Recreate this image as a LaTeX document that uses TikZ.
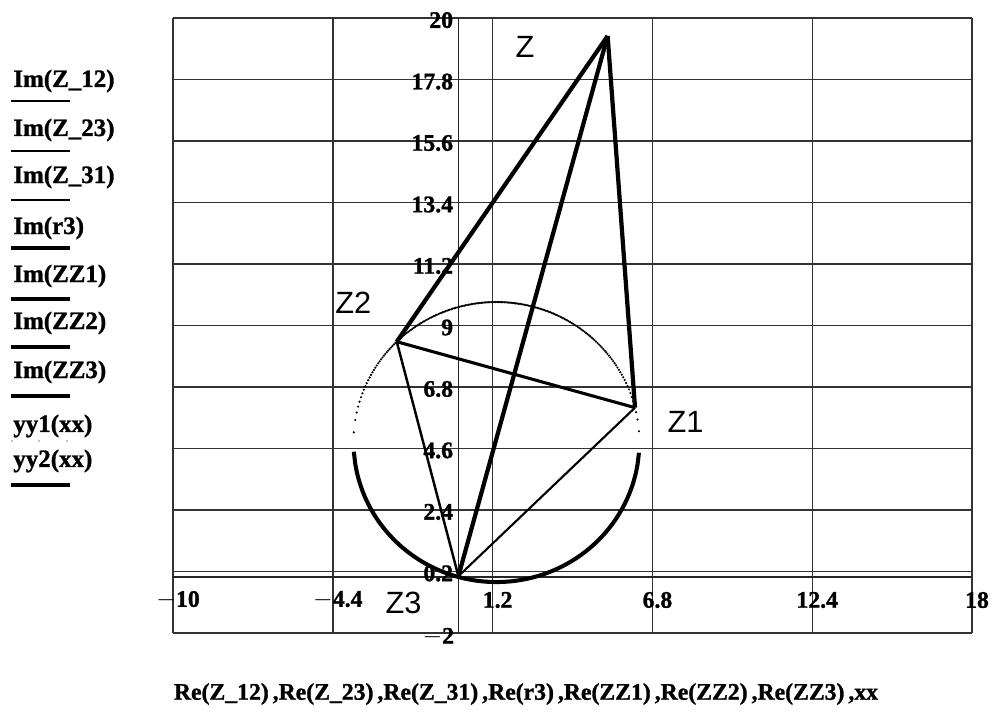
\documentclass[tikz,border=0pt]{standalone}
\usepackage{fontspec}
\setmainfont[BoldFeatures={FakeBold=1.2}]{Liberation Serif}
\newfontfamily\ptfont{Liberation Sans}
\usetikzlibrary{positioning, calc}
\tikzset{
	grid_ln/.style={draw=black!80, line width=0.8pt},
	axis_ln/.style={draw=black!85, line width=0.8pt},
	side_z12/.style={draw=black, line width=1.75pt},
	side_z23/.style={draw=black, line width=1.4pt},
	side_z31/.style={draw=black, line width=1.2pt},
	leg_thin/.style={draw=black, line width=1.4pt},
	leg_r3/.style={draw=black, line width=1.8pt},
	ray_zz/.style={draw=black, line width=2.4pt, line join=round},
	arc_dots/.style={only marks, mark=*, mark size=0.4pt},
	arc_thick/.style={draw=black, line width=2.3pt},
	tick_lbl/.style={font=\bfseries\fontsize{13.5}{14}\selectfont, inner sep=0pt},
	leg_lbl/.style={font=\bfseries\fontsize{14.2}{15}\selectfont, inner sep=0pt, anchor=west},
	pt_lbl/.style={font=\ptfont\fontsize{17.5}{18}\selectfont, inner sep=0pt}
}

\begin{document}
\begin{tikzpicture}[x=0.02cm, y=-0.02cm]
	\useasboundingbox (0,0) rectangle (994,713);
	% legend
	\node[leg_lbl] (l_z12) at (13,81) {Im(Z\_12)};
	\draw[leg_thin] (11,101) -- (70,101);
	\node[leg_lbl] (l_z23) at (13,130) {Im(Z\_23)};
	\draw[leg_thin] (11,151) -- (70,151);
	\node[leg_lbl] (l_z31) at (13,177) {Im(Z\_31)};
	\draw[leg_thin] (11,200) -- (70,200);
	\node[leg_lbl] (l_r3) at (13,228) {Im(r3)};
	\draw[leg_r3] (11,248) -- (70,248);
	\node[leg_lbl] (l_zz1) at (13,276) {Im(ZZ1)};
	\draw[ray_zz] (11,299) -- (70,299);
	\node[leg_lbl] (l_zz2) at (13,323) {Im(ZZ2)};
	\draw[ray_zz] (11,347) -- (70,347);
	\node[leg_lbl] (l_zz3) at (13,372) {Im(ZZ3)};
	\draw[ray_zz] (11,396) -- (70,396);
	\node[leg_lbl] (l_yy1) at (13,426) {yy1(xx)};
	\fill (12,441) circle (0.6) (39,441) circle (0.6) (67,441) circle (0.6);
	\node[leg_lbl] (l_yy2) at (13,461) {yy2(xx)};
	\draw[arc_thick] (11,485) -- (70,485);
	\node[tick_lbl] (x_title) at (526,694) {Re(Z\_12)\,,Re(Z\_23)\,,Re(Z\_31)\,,Re(r3)\,,Re(ZZ1)\,,Re(ZZ2)\,,Re(ZZ3)\,,xx};

	% plot area, data units
	\begin{scope}[shift={(458.4,577)}, x=0.5708cm, y=0.559cm]
		\foreach \gx in {-10,-4.4,1.2,6.8,12.4,18}
			\draw[grid_ln] (\gx,-2) -- (\gx,20);
		\foreach \gy in {-2,0.2,2.4,4.6,6.8,9,11.2,13.4,15.6,17.8,20}
			\draw[grid_ln] (-10,\gy) -- (18,\gy);
		\draw[axis_ln] (0,-2) -- (0,20);
		\draw[axis_ln] (-10,0) -- (18,0);

		\foreach \gx/\gt in {-10/$-$10,-4.4/$-$4.4,1.2/1.2,6.8/6.8,12.4/12.4,18/18}
			\node[tick_lbl, xshift=0.1cm, yshift=-0.46cm] at (\gx,0) {\gt};
		\foreach \gy in {0.2,2.4,4.6,6.8,9,11.2,13.4,15.6,17.8,20}
			\node[tick_lbl, anchor=east, xshift=-0.1cm, yshift=-0.04cm] at (0,\gy) {\gy};
		\node[tick_lbl, anchor=east, xshift=-0.08cm, yshift=-0.08cm] at (0,-2) {$-$2};

		% circle through the three points
		\draw plot[arc_dots, domain=-3.665:6.331, samples=200]
			(\x, {4.83+sqrt(max(0,25.1-(\x-1.333)^2))});
		\draw[arc_thick] plot[domain=-3.665:6.331, samples=200]
			(\x, {4.83-sqrt(max(0,25.1-(\x-1.333)^2))});

		\coordinate (Z) at (5.23,19.36);
		\coordinate (Z1) at (6.19,6.06);
		\coordinate (Z2) at (-2.16,8.42);
		\coordinate (Z3) at (0,0.03);

		\draw[side_z12] (Z1) -- (Z2);
		\draw[side_z23] (Z2) -- (Z3);
		\draw[side_z31] (Z3) -- (Z1);
		\draw[ray_zz] (Z) -- (Z1);
		\draw[ray_zz] (Z) -- (Z2);
		\draw[ray_zz] (Z) -- (Z3);

		\node[pt_lbl] (lbl_z) at (2.33,18.96) {Z};
		\node[pt_lbl] (lbl_z1) at (7.96,5.55) {Z1};
		\node[pt_lbl] (lbl_z2) at (-3.68,9.82) {Z2};
		\node[pt_lbl] (lbl_z3) at (-1.92,-0.93) {Z3};
	\end{scope}
\end{tikzpicture}
\end{document}
